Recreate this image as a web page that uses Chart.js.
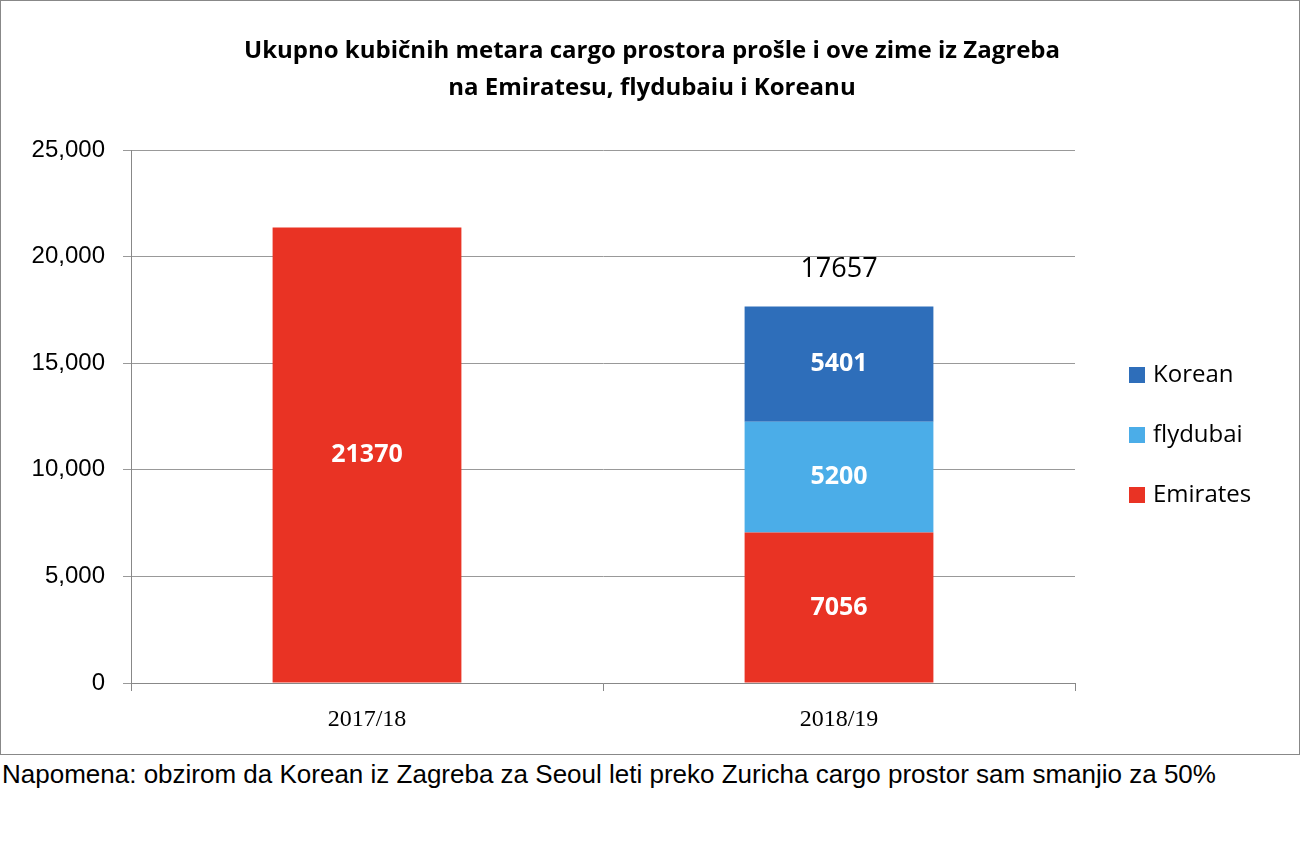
<!DOCTYPE html>
<html><head><meta charset="utf-8">
<script src="https://cdn.jsdelivr.net/npm/chart.js@4"></script>
<style>
body{margin:0;background:#fff;width:1300px;height:850px;overflow:hidden}
#box{position:absolute;left:0;top:0;width:1298px;height:753px;border:1px solid #888}
#note{position:absolute;left:2px;top:758px;font:26px "Liberation Sans",Arial,sans-serif;color:#000;line-height:33px}
</style></head><body>
<div id="box"><canvas id="c" width="1298" height="753"></canvas></div>
<div id="note">Napomena: obzirom da Korean iz Zagreba za Seoul leti preko Zuricha cargo prostor sam smanjio za 50%</div>
<script>
const categories = ["2017/18", "2018/19"];
const emirates = [21370, 7056];
const flydubai = [null, 5200];
const korean = [null, 5401];
const totals = [null, 17657];
const yTicks = [0, 5000, 10000, 15000, 20000, 25000];
const titleLines = ["Ukupno kubičnih metara cargo prostora prošle i ove zime iz Zagreba", "na Emiratesu, flydubaiu i Koreanu"];

const extras = {
  id: "extras",
  afterDatasetsDraw(chart) {
    const ctx = chart.ctx;
    ctx.save();
    ctx.textAlign = "center"; ctx.textBaseline = "middle";
    ctx.fillStyle = "#fff"; ctx.font = "bold 25px 'Open Sans', sans-serif";
    chart.data.datasets.forEach((ds, i) => {
      chart.getDatasetMeta(i).data.forEach((el, j) => {
        const v = ds.data[j]; if (v == null) return;
        ctx.fillText(String(v), el.x, (el.y + el.base) / 2);
      });
    });
    ctx.fillStyle = "#000"; ctx.font = "27px 'Open Sans', sans-serif";
    const m = chart.getDatasetMeta(2);
    totals.forEach((t, j) => { if (t == null) return; const el = m.data[j]; ctx.fillText(String(t), el.x, el.y - 37); });
    // title
    ctx.font = "bold 24px 'Open Sans', sans-serif";
    titleLines.forEach((l, k) => ctx.fillText(l, 651, 50 + k * 37));
    // legend
    ctx.textAlign = "left"; ctx.font = "24px 'Open Sans', sans-serif";
    const order = [2, 1, 0];
    order.forEach((di, k) => {
      const ds = chart.data.datasets[di];
      const y = 374 + k * 60;
      ctx.fillStyle = ds.backgroundColor; ctx.fillRect(1128, y - 8, 16, 16);
      ctx.fillStyle = "#000"; ctx.fillText(ds.label, 1152, y);
    });
    ctx.restore();
  }
};

new Chart(document.getElementById("c"), {
  type: "bar",
  data: {
    labels: categories,
    datasets: [
      { label: "Emirates", data: emirates, backgroundColor: "#E93324" },
      { label: "flydubai", data: flydubai, backgroundColor: "#4BADE8" },
      { label: "Korean", data: korean, backgroundColor: "#2E6EBA" }
    ]
  },
  options: {
    responsive: false, animation: false,
    layout: { padding: { top: 149, right: 224, left: 0, bottom: 0 } },
    plugins: { legend: { display: false }, title: { display: false }, tooltip: { enabled: false } },
    datasets: { bar: { barPercentage: 0.4, categoryPercentage: 1 } },
    scales: {
      x: {
        stacked: true,
        afterFit(s) { s.height = 71; },
        grid: { display: true, drawOnChartArea: false, offset: true, tickLength: 8, color: "#888" },
        border: { color: "#888" },
        ticks: { padding: 14, color: "#000", font: { family: "'Liberation Serif', serif", size: 24 } }
      },
      y: {
        stacked: true, min: 0, max: 25000,
        afterFit(s) { s.width = 130; },
        afterBuildTicks(s) { s.ticks = yTicks.map(v => ({ value: v })); },
        grid: { color: "#999", tickLength: 8 },
        border: { color: "#888" },
        ticks: { padding: 18, color: "#000", font: { family: "'Liberation Sans', sans-serif", size: 24 } }
      }
    }
  },
  plugins: [extras]
});
</script></body></html>
